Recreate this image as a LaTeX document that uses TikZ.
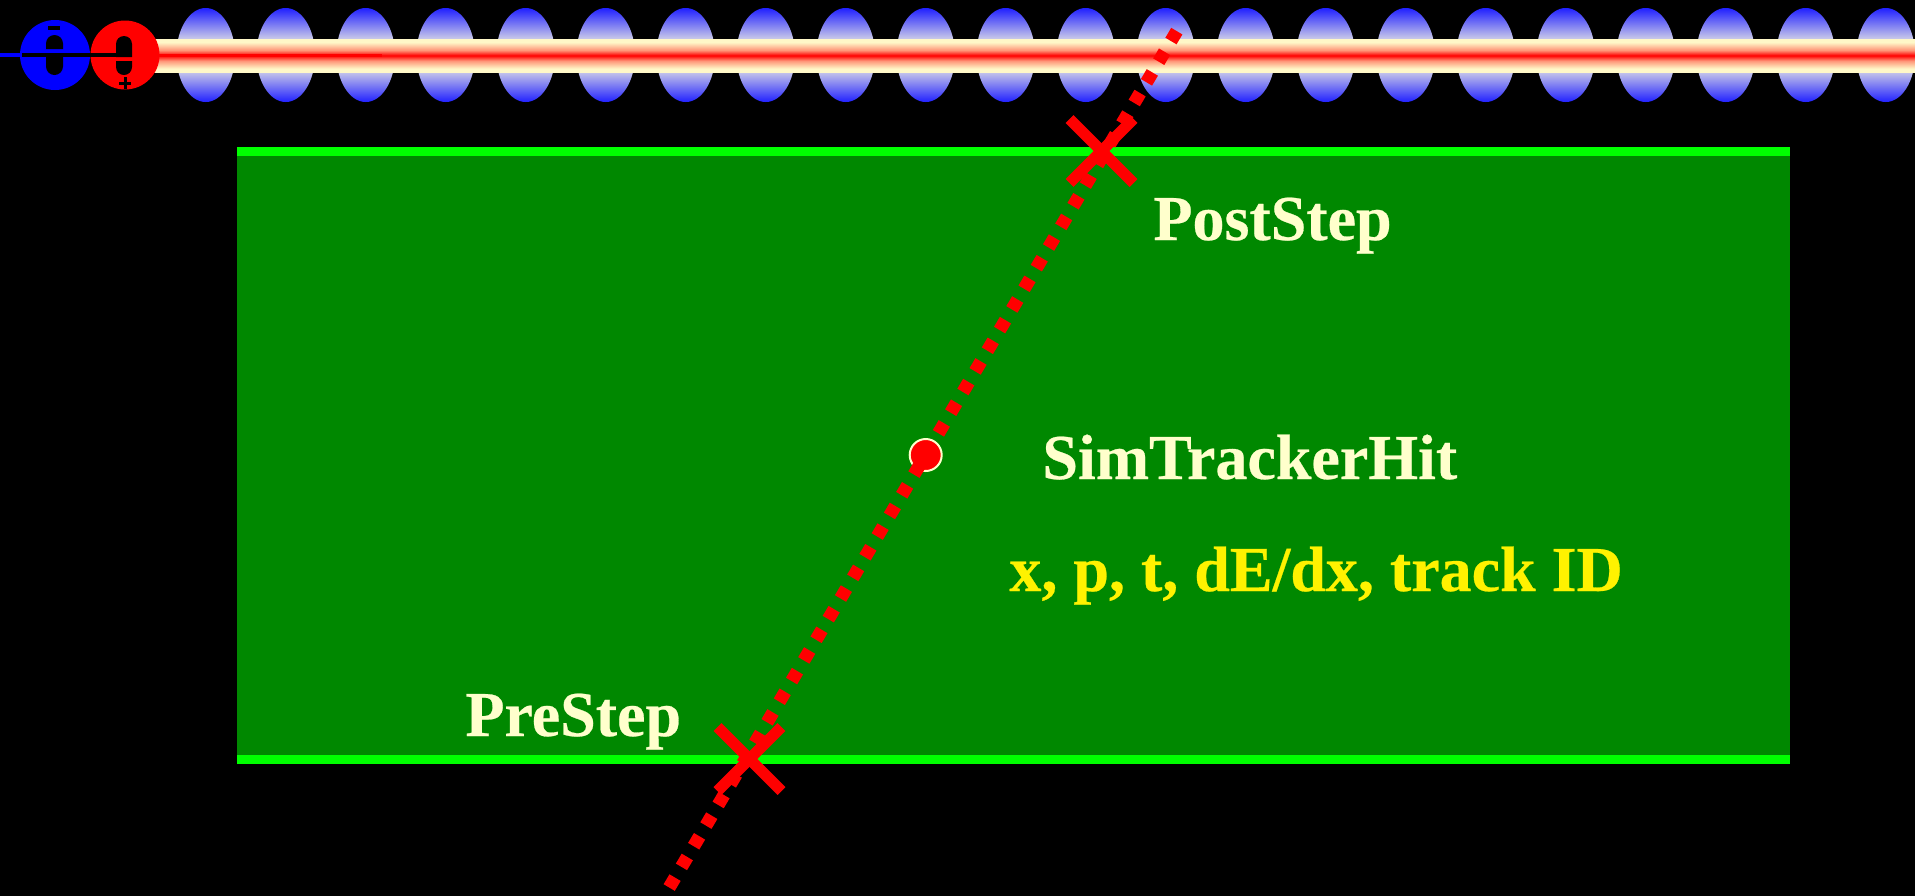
\documentclass[tikz,border=0pt]{standalone}
\usepackage{fontspec}
\usetikzlibrary{calc}
\setmainfont[BoldFeatures={FakeBold=0.4}]{Liberation Serif}
\definecolor{cream}{RGB}{255,255,204}
\definecolor{beamedge}{RGB}{255,248,200}
\definecolor{bunchblue}{RGB}{32,32,255}
\definecolor{bunchmid}{RGB}{208,208,232}
\definecolor{padgreen}{RGB}{0,136,0}
\definecolor{edgegreen}{RGB}{0,255,0}
\pgfdeclareverticalshading{bunchshade}{100bp}{color(0bp)=(bunchblue); color(25bp)=(bunchblue); color(42bp)=(bunchmid); color(58bp)=(bunchmid); color(75bp)=(bunchblue); color(100bp)=(bunchblue)}
\pgfdeclareverticalshading{beamshade}{100bp}{color(0bp)=(beamedge); color(30bp)=(beamedge); color(42bp)=(red!40!beamedge); color(50bp)=(red); color(58bp)=(red!40!beamedge); color(70bp)=(beamedge); color(100bp)=(beamedge)}
\tikzset{
	bunch/.style={draw=none,shading=bunchshade},
	textlabel/.style={inner sep=0pt,anchor=base west,font=\fontsize{32}{32}\selectfont\bfseries,text=cream},
	crossarm/.style={draw=red,line width=5.5pt},
	trackline/.style={draw=red,line width=6.5pt,dash pattern=on 5.75pt off 6.25pt},
}
\begin{document}
\begin{tikzpicture}[x=0.5pt,y=0.5pt,yscale=-1,xscale=1]
	\useasboundingbox (0,0) rectangle (1915,895);
	%background
	\fill[black] (-5,-5) rectangle (1920,900);

	%Bunches
	\foreach \i in {0,...,21}
		\path[bunch] ({205.7+80*\i},55) ellipse (29.3 and 47);
	%Beam pipe
	\path[shading=beamshade] (150,39) rectangle (1915,72);
	\fill[red] (150,53.5) rectangle (382,56.5);

	%Positron
	\fill[red] (125,55) circle (34.5);
	\fill[black] (116,57) -- (116,44) arc[start angle=180,end angle=360,radius=8] -- (132,57) -- cycle;
	\fill[black] (116,61) -- (116,67) arc[start angle=180,end angle=0,radius=8] -- (132,61) -- cycle;
	\draw[black,line width=1.5pt] (125,77) -- (125,89) (119,83) -- (131,83);
	%Electron
	\fill[blue] (55,55) circle (35);
	\fill[black] (46,49) -- (46,43.5) arc[start angle=180,end angle=360,radius=8.5] -- (63,49) -- cycle;
	\fill[black] (46,57) -- (46,66.5) arc[start angle=180,end angle=0,radius=8.5] -- (63,57) -- cycle;
	\fill[black] (48,26) rectangle (60,30);

	%Incoming lines
	\fill[blue] (0,52.5) rectangle (22,57);
	\fill[black] (22,52.5) rectangle (118,57);

	%Silicon layer
	\fill[padgreen] (237,147) rectangle (1790,764);
	\fill[edgegreen] (237,147) rectangle (1790,156);
	\fill[edgegreen] (237,755) rectangle (1790,764);

	\coordinate (trackin) at (669.2,887.5);
	\coordinate (trackout) at (1177,30.8);
	\coordinate (prestep) at (749.5,759);
	\coordinate (poststep) at (1101.5,151);

	%Hit
	\node[circle,fill=red,draw=cream,line width=1pt,minimum size=16pt,inner sep=0pt] (hit) at (925.7,455) {};

	%Step ends
	\draw[crossarm] ($(prestep)+(-32,-32)$) -- ($(prestep)+(32,32)$);
	\draw[crossarm] ($(prestep)+(-32,32)$) -- ($(prestep)+(32,-32)$);
	\draw[crossarm] ($(poststep)+(-32,-32)$) -- ($(poststep)+(32,32)$);
	\draw[crossarm] ($(poststep)+(-32,32)$) -- ($(poststep)+(32,-32)$);

	%Track
	\draw[trackline] (trackin) -- (trackout);

	% Text Node
	\node[textlabel] (postlabel) at (1153,240) {PostStep};
	\node[textlabel] (hitlabel) at (1042,479) {SimTrackerHit};
	\node[textlabel,text=yellow] (hitdata) at (1009,591) {x, p, t, dE/dx, track ID};
	\node[textlabel] (prelabel) at (465,736) {PreStep};
\end{tikzpicture}
\end{document}
